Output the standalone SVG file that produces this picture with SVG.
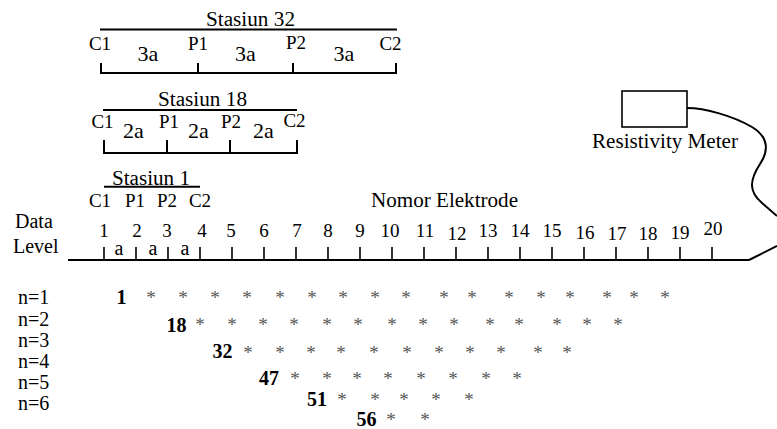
<svg xmlns="http://www.w3.org/2000/svg" width="777" height="429" viewBox="0 0 777 429">
<style>
text{font-family:"Liberation Serif","Times New Roman",serif;fill:#000}
.t{font-size:20px}
.lbl{font-size:19px;text-anchor:middle}
.big{font-size:22px;text-anchor:middle}
.a{font-size:20px;text-anchor:middle}
.num{font-size:19px;text-anchor:middle}
.b{font-size:20px;font-weight:bold;text-anchor:middle}
.ast{font-size:19px;text-anchor:middle;fill:#555}
.ln{stroke:#000;stroke-width:2;fill:none}
.tk{stroke:#000;stroke-width:1.6;fill:none}
</style>
<rect width="777" height="429" fill="#fff"/>

<g id="stasiun32">
<text class="t" x="206" y="26" textLength="89" lengthAdjust="spacingAndGlyphs">Stasiun 32</text>
<line class="ln" x1="100" y1="29.5" x2="397" y2="29.5"/>
<path class="ln" d="M101,63V73M198,63V73M293,63V73M396,63V73M100,73H397"/>
<text class="lbl" x="100" y="50">C1</text>
<text class="big" x="148" y="60.5">3a</text>
<text class="lbl" x="198" y="50">P1</text>
<text class="big" x="245.5" y="60.5">3a</text>
<text class="lbl" x="296" y="49">P2</text>
<text class="big" x="344" y="60.5">3a</text>
<text class="lbl" x="390.5" y="50">C2</text>
</g>

<g id="stasiun18">
<text class="t" x="158" y="105.5" textLength="89" lengthAdjust="spacingAndGlyphs">Stasiun 18</text>
<line class="ln" x1="103" y1="110" x2="297" y2="110"/>
<path class="ln" d="M104,140V153M167,140V153M230,140V153M297,140V153M103,153H298"/>
<text class="lbl" x="102.5" y="128">C1</text>
<text class="big" x="133.5" y="138">2a</text>
<text class="lbl" x="169" y="128">P1</text>
<text class="big" x="198.5" y="138">2a</text>
<text class="lbl" x="231" y="128">P2</text>
<text class="big" x="263.5" y="138">2a</text>
<text class="lbl" x="294.5" y="127">C2</text>
</g>

<g id="stasiun1">
<text class="t" x="112" y="185" textLength="78" lengthAdjust="spacingAndGlyphs">Stasiun 1</text>
<line class="ln" x1="104" y1="186.7" x2="200" y2="186.7"/>
<text class="lbl" x="100" y="207">C1</text>
<text class="lbl" x="135" y="207">P1</text>
<text class="lbl" x="167" y="207">P2</text>
<text class="lbl" x="200" y="207">C2</text>
</g>

<g id="elektrode">
<text class="t" x="371" y="207" textLength="147" lengthAdjust="spacingAndGlyphs">Nomor Elektrode</text>
<text class="t" x="15" y="228">Data</text>
<text class="t" x="13" y="253">Level</text>
<line class="ln" x1="68" y1="260" x2="749" y2="260"/>
<path class="tk" d="M104,247V260M136,247V260M168,247V260M200,247V260M232,247V260M264,247V260M296,247V260M328,247V260M360,247V260M392,247V260M424,247V260M456,247V260M488,247V260M520,247V260M552,247V260M584,247V260M616,247V260M648,247V260M680,247V260M712,247V260"/>
<text class="a" x="119" y="255">a</text>
<text class="a" x="153" y="255">a</text>
<text class="a" x="185" y="255">a</text>
<text class="num" x="104" y="237">1</text>
<text class="num" x="137" y="237">2</text>
<text class="num" x="167" y="237">3</text>
<text class="num" x="202" y="237">4</text>
<text class="num" x="231" y="237">5</text>
<text class="num" x="264" y="237">6</text>
<text class="num" x="297" y="237">7</text>
<text class="num" x="328" y="237">8</text>
<text class="num" x="360" y="237">9</text>
<text class="num" x="390" y="237">10</text>
<text class="num" x="425" y="237">11</text>
<text class="num" x="457" y="239.5">12</text>
<text class="num" x="488" y="237">13</text>
<text class="num" x="520" y="237">14</text>
<text class="num" x="552" y="237">15</text>
<text class="num" x="585" y="238.5">16</text>
<text class="num" x="617" y="239.5">17</text>
<text class="num" x="648" y="240">18</text>
<text class="num" x="680" y="238.5">19</text>
<text class="num" x="713" y="235">20</text>
</g>

<g id="resistivity-meter">
<rect x="622" y="91" width="65" height="36" fill="none" stroke="#000" stroke-width="1.6"/>
<text class="t" x="592" y="148" textLength="146" lengthAdjust="spacingAndGlyphs">Resistivity Meter</text>
</g>

<g id="connectors">
<path class="ln" d="M687,108C705,108 733,116 752,127C770,138 768,152 760,164C749,181 749,192 762,203L777,216"/>
<path class="ln" d="M749,260L777,246"/>
</g>

<g id="data-levels">
<text class="t" x="18" y="304">n=1</text>
<text class="t" x="18" y="326">n=2</text>
<text class="t" x="18" y="347">n=3</text>
<text class="t" x="18" y="368">n=4</text>
<text class="t" x="18" y="389">n=5</text>
<text class="t" x="18" y="410">n=6</text>
<text class="b" x="121.5" y="303.5">1</text>
<text class="b" x="176.5" y="332">18</text>
<text class="b" x="222.5" y="357.5">32</text>
<text class="b" x="269" y="384.5">47</text>
<text class="b" x="317" y="405.5">51</text>
<text class="b" x="366.5" y="425.5">56</text>
<text class="ast" x="151 183 215 247 280 312 343 375 406 444 472 509 541 570 607 634 665" y="303.5">*****************</text>
<text class="ast" x="200 232 263 294 327 358 392 423 454 490 519 557 587 618" y="331">**************</text>
<text class="ast" x="248 280 311 341 374 407 439 470 501 538 567" y="358.5">***********</text>
<text class="ast" x="295 327 357 388 421 453 486 517" y="384.5">********</text>
<text class="ast" x="342 375 404 436 469" y="405.5">*****</text>
<text class="ast" x="391 425" y="425.5">**</text>
</g>
</svg>
